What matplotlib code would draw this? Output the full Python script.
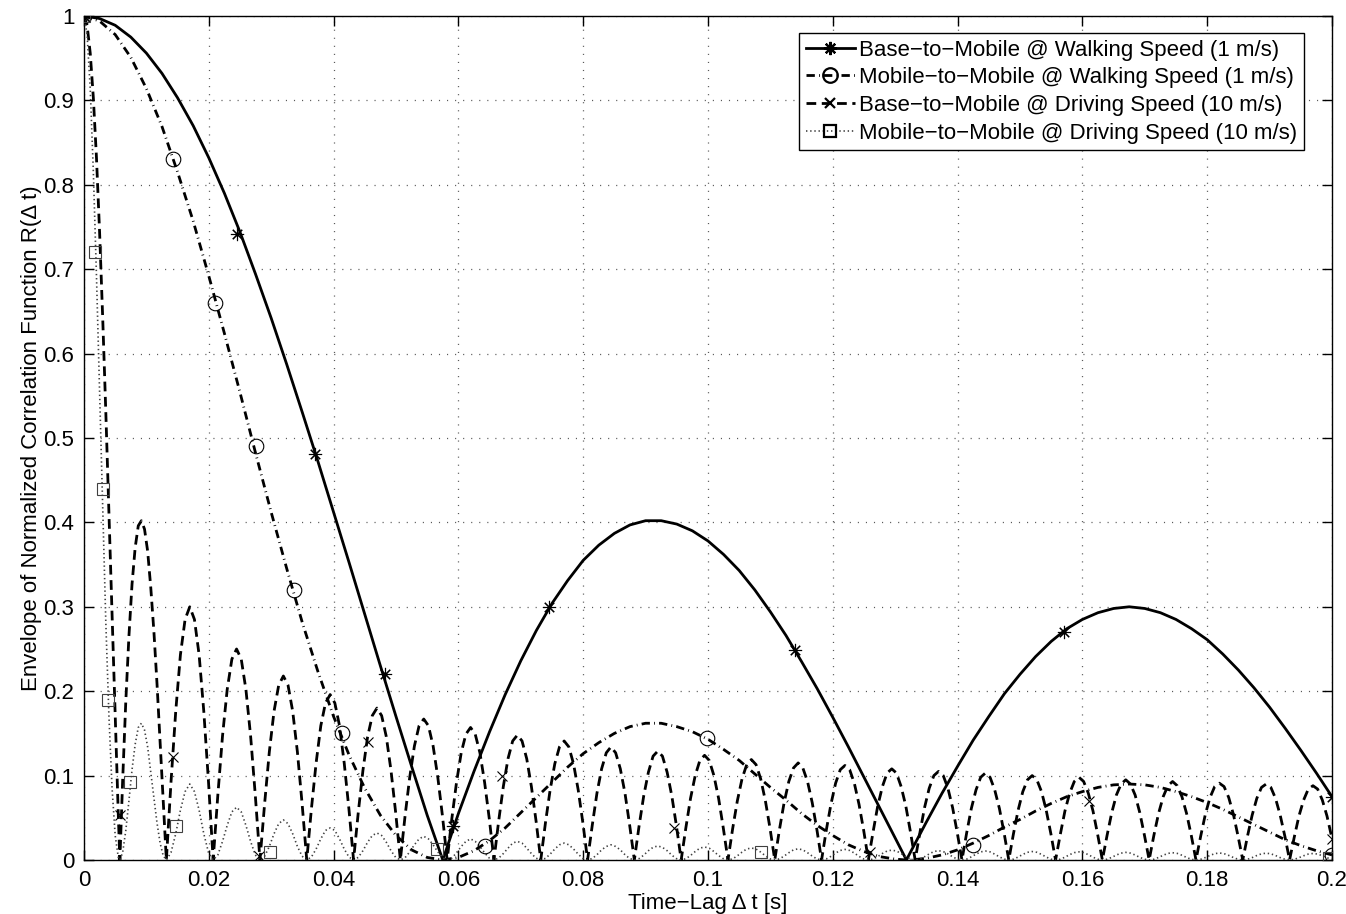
#!/usr/bin/env python3
# -*- coding: utf-8 -*-

import numpy as np
import matplotlib
matplotlib.use('Agg')
import matplotlib.pyplot as plt
from matplotlib.lines import Line2D

## Data
# walking speed (1 m/s): samples every 0.0025 s, plus the second null at 0.1318 s
walk_t = np.insert(np.arange(81) * 0.0025, 53, 0.1318)
btm_walk = [1.000, 0.997, 0.989, 0.975, 0.956, 0.932, 0.903, 0.870, 0.832, 0.790,
            0.744, 0.694, 0.642, 0.587, 0.530, 0.472, 0.412, 0.352, 0.291, 0.230,
            0.170, 0.111, 0.053, 0.000, 0.055, 0.105, 0.152, 0.196, 0.236, 0.272,
            0.304, 0.331, 0.355, 0.373, 0.387, 0.397, 0.402, 0.402, 0.398, 0.390,
            0.378, 0.362, 0.343, 0.320, 0.294, 0.266, 0.235, 0.203, 0.169, 0.134,
            0.098, 0.062, 0.026, 0.000, 0.010, 0.045, 0.079, 0.111, 0.142, 0.170, 0.197,
            0.220, 0.241, 0.259, 0.274, 0.285, 0.293, 0.298, 0.300, 0.298, 0.293,
            0.285, 0.274, 0.261, 0.244, 0.225, 0.204, 0.181, 0.156, 0.130, 0.103, 0.075]
mtm_walk = [1.000, 0.994, 0.978, 0.951, 0.914, 0.869, 0.815, 0.757, 0.692, 0.624,
            0.554, 0.482, 0.412, 0.345, 0.281, 0.223, 0.170, 0.124, 0.085, 0.053,
            0.029, 0.012, 0.003, 0.000, 0.003, 0.011, 0.023, 0.038, 0.056, 0.074,
            0.092, 0.110, 0.126, 0.139, 0.150, 0.158, 0.162, 0.162, 0.158, 0.152,
            0.143, 0.131, 0.118, 0.102, 0.086, 0.071, 0.055, 0.041, 0.029, 0.018,
            0.010, 0.004, 0.001, 0.000, 0.000, 0.002, 0.006, 0.012, 0.020, 0.029, 0.039,
            0.048, 0.058, 0.067, 0.075, 0.081, 0.086, 0.089, 0.090, 0.089, 0.086,
            0.081, 0.075, 0.068, 0.060, 0.051, 0.042, 0.033, 0.024, 0.017, 0.011, 0.006]

# driving speed (10 m/s): fine samples up to 0.0132 s, then every 0.00075 s
drive_head_t = [0, 0.0005, 0.001, 0.0015, 0.002, 0.0025, 0.003, 0.0035, 0.004, 0.0045,
                0.005, 0.0055, 0.00575, 0.0062, 0.0067, 0.0072, 0.0077, 0.0082, 0.0087,
                0.0092, 0.0097, 0.0102, 0.0107, 0.0112, 0.0117, 0.0122, 0.0127]
drive_t = np.concatenate([drive_head_t, 0.0132 + 0.00075 * np.arange(250)])
btm_drive = [
    1.000, 0.989, 0.956, 0.903, 0.832, 0.744, 0.642, 0.530, 0.412, 0.291,
    0.170, 0.053, 0.000, 0.095, 0.188, 0.265, 0.327, 0.370, 0.396,
    0.402, 0.392, 0.366, 0.323, 0.271, 0.209, 0.140, 0.069,
    0, .093, .176, .243, .285, .300, .285, .243, .176, .093,
    0, .077, .147, .202, .238, .250, .238, .202, .147, .077,
    0, .067, .128, .176, .207, .218, .207, .176, .128, .067,
    0, .061, .115, .159, .186, .196, .186, .159, .115, .061,
    0, .056, .106, .146, .171, .180, .171, .146, .106, .056,
    0, .052, .098, .135, .159, .167, .159, .135, .098, .052,
    0, .049, .092, .127, .149, .157, .149, .127, .092, .049,
    0, .046, .087, .120, .141, .148, .141, .120, .087, .046,
    0, .044, .083, .114, .134, .141, .134, .114, .083, .044,
    0, .041, .079, .108, .127, .134, .127, .108, .079, .041,
    0, .040, .076, .104, .123, .129, .123, .104, .076, .040,
    0, .038, .073, .100, .118, .124, .118, .100, .073, .038,
    0, .037, .070, .096, .113, .119, .113, .096, .070, .037,
    0, .036, .068, .093, .109, .115, .109, .093, .068, .036,
    0, .035, .066, .091, .107, .112, .107, .091, .066, .035,
    0, .033, .064, .087, .103, .108, .103, .087, .064, .033,
    0, .032, .062, .085, .100, .105, .100, .085, .062, .032,
    0, .032, .061, .083, .098, .103, .098, .083, .061, .032,
    0, .031, .059, .081, .095, .100, .095, .081, .059, .031,
    0, .030, .058, .079, .093, .098, .093, .079, .058, .030,
    0, .029, .056, .077, .090, .095, .090, .077, .056, .029,
    0, .029, .055, .075, .088, .093, .088, .075, .055, .029,
    0, .028, .054, .074, .087, .091, .087, .074, .054, .028,
    0, .028, .053, .073, .086, .090, .086, .073, .053, .028,
    0, .027, .052, .071, .084, .088, .084, .071, .052, .027]
mtm_drive = [
    1.000, 0.978, 0.914, 0.815, 0.692, 0.554, 0.412, 0.281, 0.170, 0.085,
    0.029, 0.003, 0.000, 0.009, 0.035, 0.070, 0.107, 0.137, 0.157,
    0.162, 0.154, 0.134, 0.104, 0.073, 0.044, 0.020, 0.005,
    0, .009, .031, .059, .081, .090, .081, .059, .031, .009,
    0, .006, .022, .041, .057, .0625, .057, .041, .022, .006,
    0, .0045, .016, .031, .043, .0475, .043, .031, .016, .0045,
    0, .0036, .013, .025, .035, .038, .035, .025, .013, .0036,
    0, .0031, .011, .021, .029, .032, .029, .021, .011, .0031,
    0, .0027, .0096, .018, .025, .028, .025, .018, .0096, .0027,
    0, .0023, .0085, .016, .022, .025, .022, .016, .0085, .0023,
    0, .0021, .0076, .014, .020, .022, .020, .014, .0076, .0021,
    0, .0019, .0069, .013, .018, .020, .018, .013, .0069, .0019,
    0, .0017, .0062, .012, .016, .018, .016, .012, .0062, .0017,
    0, .0016, .0057, .011, .015, .0166, .015, .011, .0057, .0016,
    0, .0015, .0053, .010, .014, .0154, .014, .010, .0053, .0015,
    0, .0013, .0049, .0093, .013, .0142, .013, .0093, .0049, .0013,
    0, .0013, .0046, .0086, .012, .0132, .012, .0086, .0046, .0013,
    0, .0012, .0043, .0082, .0113, .0125, .0113, .0082, .0043, .0012,
    0, .0011, .0040, .0077, .0106, .0117, .0106, .0077, .0040, .0011,
    0, .0010, .0038, .0072, .0100, .0110, .0100, .0072, .0038, .0010,
    0, .0010, .0037, .0069, .0096, .0106, .0096, .0069, .0037, .0010,
    0, .00095, .0035, .0066, .0091, .0100, .0091, .0066, .0035, .00095,
    0, .0009, .0033, .0063, .0087, .0096, .0087, .0063, .0033, .0009,
    0, .0009, .0031, .0059, .0081, .0090, .0081, .0059, .0031, .0009,
    0, .0008, .0030, .0056, .0078, .0086, .0078, .0056, .0030, .0008,
    0, .0008, .0029, .0054, .0075, .0083, .0075, .0054, .0029, .0008,
    0, .0008, .0028, .0053, .0073, .0081, .0073, .0053, .0028, .0008,
    0, .0007, .0027, .0050, .0070, .0077, .0070, .0050, .0027, .0007]

# marker positions along each curve
btm_walk_mk_t = [0.0, 0.0245, 0.037, 0.0482, 0.0592, 0.0745, 0.114, 0.157, 0.2]
btm_walk_mk_r = [1.0, 0.742, 0.481, 0.22, 0.04, 0.30, 0.249, 0.27, 0.075]
mtm_walk_mk_t = [0.0, 0.0143, 0.021, 0.0275, 0.0337, 0.0414, 0.0642, 0.0998, 0.1425, 0.2]
mtm_walk_mk_r = [1.0, 0.83, 0.66, 0.49, 0.32, 0.15, 0.017, 0.145, 0.018, 0.006]
btm_drive_mk_t = [0.0, 0.0057, 0.0142, 0.028, 0.0455, 0.067, 0.0946, 0.126, 0.161, 0.2]
btm_drive_mk_r = [1.0, 0.053, 0.122, 0.005, 0.14, 0.10, 0.038, 0.01, 0.07, 0.025]
mtm_drive_mk_t = [0.0, 0.0018, 0.003, 0.0038, 0.0073, 0.0148, 0.0298, 0.0565, 0.1085, 0.1995]
mtm_drive_mk_r = [1.0, 0.72, 0.44, 0.19, 0.092, 0.04, 0.01, 0.013, 0.01, 0.002]

labels = ['Base\u2212to\u2212Mobile @ Walking Speed (1 m/s)',
          'Mobile\u2212to\u2212Mobile @ Walking Speed (1 m/s)',
          'Base\u2212to\u2212Mobile @ Driving Speed (10 m/s)',
          'Mobile\u2212to\u2212Mobile @ Driving Speed (10 m/s)']
xtick_vals = [0, 0.02, 0.04, 0.06, 0.08, 0.1, 0.12, 0.14, 0.16, 0.18, 0.2]
xtick_labels = ['0', '0.02', '0.04', '0.06', '0.08', '0.1', '0.12', '0.14', '0.16', '0.18', '0.2']
ytick_vals = [0, 0.1, 0.2, 0.3, 0.4, 0.5, 0.6, 0.7, 0.8, 0.9, 1.0]
ytick_labels = ['0', '0.1', '0.2', '0.3', '0.4', '0.5', '0.6', '0.7', '0.8', '0.9', '1']

plt.rcParams['font.family'] = ['Liberation Sans', 'DejaVu Sans']
plt.rcParams['font.size'] = 16
plt.rcParams['lines.scale_dashes'] = False

fig = plt.figure(figsize=(13.46, 9.14), dpi=100)
ax = fig.add_axes([0.0624, 0.0591, 0.9272, 0.9234])

# line styles (dashes in points)
styles = [
    dict(color='black', lw=2.0, linestyle='-'),
    dict(color='black', lw=2.0, linestyle=(0, (6.0, 3.0, 0.6, 3.0))),
    dict(color='black', lw=2.0, linestyle=(0, (7.0, 4.0))),
    dict(color='0.25', lw=1.2, linestyle=(0, (1.0, 2.0))),
]
markers = [
    dict(marker=(8, 2, 0), markersize=9.5),
    dict(marker='o', markersize=10.5),
    dict(marker='x', markersize=7.5),
    dict(marker='s', markersize=8),
]
curves = [(walk_t, btm_walk, btm_walk_mk_t, btm_walk_mk_r),
          (walk_t, mtm_walk, mtm_walk_mk_t, mtm_walk_mk_r),
          (drive_t, btm_drive, btm_drive_mk_t, btm_drive_mk_r),
          (drive_t, mtm_drive, mtm_drive_mk_t, mtm_drive_mk_r)]

handles = []
for (t, r, mt, mr), st, mk, lab in zip(curves, styles, markers, labels):
    ax.plot(t, r, **st, zorder=3)
    ax.plot(mt, mr, linestyle='none', markerfacecolor='none', markeredgecolor=st['color'],
            markeredgewidth=0.8, zorder=4, **mk)
    handles.append(Line2D([], [], markerfacecolor='none', markeredgecolor='black',
                          markeredgewidth=1.6, label=lab, **st, **mk))

ax.set_xlim(0, 0.2)
ax.set_ylim(0, 1)
ax.set_xticks(xtick_vals)
ax.set_xticklabels(xtick_labels)
ax.set_yticks(ytick_vals)
ax.set_yticklabels(ytick_labels)
ax.tick_params(direction='in', length=7, width=1, top=True, right=True, labelsize=16, pad=7)
ax.grid(True, linestyle=(0, (0.8, 5.0)), color='0.35', lw=0.9)
ax.set_axisbelow(True)
for s in ax.spines.values():
    s.set_linewidth(1.0)

ax.set_xlabel('Time\u2212Lag \u0394 t [s]', fontsize=16, labelpad=2)
ax.set_ylabel('Envelope of Normalized Correlation Function R(\u0394 t)', fontsize=16, labelpad=1)

leg = ax.legend(handles=handles, loc='upper right', bbox_to_anchor=(0.9776, 0.98),
                fontsize=16, fancybox=False, framealpha=1, edgecolor='black',
                handlelength=2.2, handletextpad=0.2, borderpad=0.3, labelspacing=0.3,
                borderaxespad=0.0)
leg.get_frame().set_linewidth(1.0)

plt.savefig('out.png', dpi=100)
plt.close()
